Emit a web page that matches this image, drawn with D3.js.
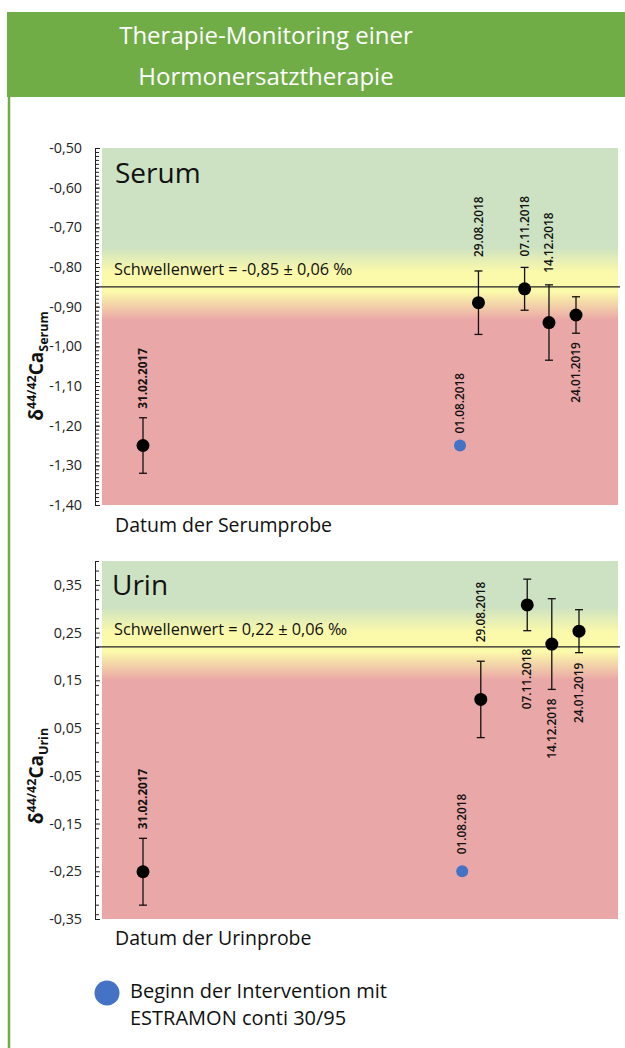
<!DOCTYPE html>
<html>
<head>
<meta charset="utf-8">
<style>
  body { margin:0; background:#fff; }
  #chart-area svg { display:block; }
  text { font-family: "Open Sans", Lato, sans-serif; fill:#111; }
  .tick text { font-family: "Open Sans", sans-serif; font-size:14.3px; fill:#222; }
  .date-label { font-family: "Open Sans", sans-serif; font-size:11.8px; fill:#111; }
</style>
</head>
<body>
<div id="chart-area"></div>

<script src="https://cdn.jsdelivr.net/npm/d3@7/dist/d3.min.js"></script>
<script>
    const width = 625;
    const height = 1048;

    // sample dates (index 1 = start of intervention, blue marker)
    const dates = ["31.02.2017", "01.08.2018", "29.08.2018", "07.11.2018", "14.12.2018", "24.01.2019"];
    // days relative to 01.08.2018
    const dayOffset = [-481, 0, 28, 98, 135, 176];

    const serumValues = [-1.25, -1.25, -0.89, -0.855, -0.94, -0.921];
    const serumErrors = [0.07, 0, 0.08, 0.054, 0.095, 0.046];
    const serumTicks = [-0.5, -0.6, -0.7, -0.8, -0.9, -1.0, -1.1, -1.2, -1.3, -1.4];
    const serumThreshold = -0.85;

    const urinValues = [-0.251, -0.25, 0.11, 0.308, 0.226, 0.253];
    const urinErrors = [0.07, 0, 0.08, 0.054, 0.095, 0.045];
    const urinTicks = [0.35, 0.25, 0.15, 0.05, -0.05, -0.15, -0.25, -0.35];
    const urinThreshold = 0.22;

    const green = "#70ad47";
    const blue = "#4472c4";

    const svg = d3.select("#chart-area")
        .append("svg")
            .attr("width", width)
            .attr("height", height);

    const defs = svg.append("defs");

    // header + left border
    svg.append("rect")
        .attr("x", 7).attr("y", 12)
        .attr("width", width - 7).attr("height", 85)
        .attr("fill", green);
    svg.append("line")
        .attr("x1", 9).attr("x2", 9)
        .attr("y1", 97).attr("y2", height)
        .attr("stroke", green).attr("stroke-width", 2.5);

    svg.append("text")
        .attr("x", 266).attr("y", 44)
        .attr("text-anchor", "middle")
        .style("font-size", "24px").style("fill", "#fff")
        .text("Therapie-Monitoring einer");
    svg.append("text")
        .attr("x", 266).attr("y", 85)
        .attr("text-anchor", "middle")
        .style("font-size", "24px").style("fill", "#fff")
        .text("Hormonersatztherapie");

    const fmt = v => d3.format(".2f")(v).replace("−", "-").replace(".", ",");

    function drawPanel(p) {
        const y = d3.scaleLinear().domain(p.domain).range(p.yRange);
        const x = d3.scaleLinear().domain([dayOffset[0], dayOffset[dayOffset.length - 1]]).range(p.xRange);
        const g = svg.append("g");

        // background gradient around the threshold
        const ty = y(p.threshold);
        const top = y(p.domain[1]), bottom = y(p.domain[0]);
        const grad = defs.append("linearGradient")
            .attr("id", "grad-" + p.id)
            .attr("gradientUnits", "userSpaceOnUse")
            .attr("x1", 0).attr("x2", 0)
            .attr("y1", top).attr("y2", bottom);
        [[-40, "#cde2c2"], [-15, "#fbf9aa"], [5, "#fbf9aa"], [33, "#eaa7a7"]].forEach(s => {
            grad.append("stop")
                .attr("offset", (ty + s[0] - top) / (bottom - top))
                .attr("stop-color", s[1]);
        });
        g.append("rect")
            .attr("x", 102).attr("y", top)
            .attr("width", 618 - 102).attr("height", bottom - top)
            .attr("fill", `url(#grad-${p.id})`);

        // y axis: minor ticks, then major ticks with labels
        const minor = d3.range(Math.round(p.domain[0] / p.minorStep), Math.round(p.domain[1] / p.minorStep) + 1)
            .map(k => k * p.minorStep);
        g.append("g")
            .attr("transform", "translate(95,0)")
            .call(d3.axisLeft(y).tickValues(minor).tickFormat("").tickSizeInner(-4).tickSizeOuter(0))
            .call(a => a.select(".domain").attr("stroke", "#222"))
            .call(a => a.selectAll(".tick line").attr("stroke", "#222"));
        g.append("g")
            .attr("transform", "translate(95,0)")
            .call(d3.axisLeft(y).tickValues(p.ticks).tickFormat(fmt).tickSizeInner(-5).tickSizeOuter(0).tickPadding(13))
            .call(a => a.select(".domain").remove())
            .call(a => a.selectAll(".tick line").attr("stroke", "#222"));

        // panel title and threshold
        g.append("text")
            .attr("x", p.titleX).attr("y", p.titleY)
            .style("font-size", "28px")
            .text(p.title);
        g.append("line")
            .attr("x1", 95).attr("x2", 620)
            .attr("y1", ty).attr("y2", ty)
            .attr("stroke", "#222").attr("stroke-width", 1.3);
        g.append("text")
            .attr("x", 114).attr("y", ty - p.thrLabelGap)
            .style("font-size", "16.3px")
            .text(p.thrLabel);

        // y axis title
        const yt = g.append("text")
            .attr("transform", `translate(43,${p.axisTitleY}) rotate(-90)`)
            .attr("text-anchor", "middle")
            .style("font-size", "19px").style("font-weight", "bold");
        yt.append("tspan").text("δ");
        yt.append("tspan").attr("dy", -7).style("font-size", "12.5px").text("44/42");
        yt.append("tspan").attr("dy", 7).text("Ca");
        yt.append("tspan").attr("dy", 5).style("font-size", "12.5px").text(p.sub);

        // x axis title
        g.append("text")
            .attr("x", 115).attr("y", p.xTitleY)
            .style("font-size", "19.5px")
            .text(p.xTitle);

        const pts = dates.map((d, i) => ({date: d, day: dayOffset[i], v: p.values[i], e: p.errors[i], i}));

        // error bars
        const eb = g.selectAll(".eb").data(pts.filter(d => d.e > 0)).enter().append("g")
            .attr("stroke", "#111").attr("stroke-width", 1.3);
        eb.append("line")
            .attr("x1", d => x(d.day)).attr("x2", d => x(d.day))
            .attr("y1", d => y(d.v + d.e)).attr("y2", d => y(d.v - d.e));
        eb.append("line")
            .attr("x1", d => x(d.day) - 4).attr("x2", d => x(d.day) + 4)
            .attr("y1", d => y(d.v + d.e)).attr("y2", d => y(d.v + d.e));
        eb.append("line")
            .attr("x1", d => x(d.day) - 4).attr("x2", d => x(d.day) + 4)
            .attr("y1", d => y(d.v - d.e)).attr("y2", d => y(d.v - d.e));

        g.selectAll(".pt").data(pts).enter().append("circle")
            .attr("cx", d => x(d.day))
            .attr("cy", d => y(d.v))
            .attr("r", d => d.i === 1 ? 6 : 6.5)
            .attr("fill", d => d.i === 1 ? blue : "#000");

        // rotated date labels
        g.selectAll(".date-label").data(pts).enter().append("text")
            .attr("class", "date-label")
            .style("font-weight", d => d.i === 0 ? "bold" : "600")
            .attr("text-anchor", d => p.labelSide[d.i] === "above" ? "start" : "end")
            .attr("dy", "0.35em")
            .attr("transform", d => {
                const ly = p.labelSide[d.i] === "above"
                    ? y(d.v + d.e) - p.labelGap[d.i]
                    : y(d.v - d.e) + p.labelGap[d.i];
                return `translate(${x(d.day)},${ly}) rotate(-90)`;
            })
            .text(d => d.date);
    }

    drawPanel({
        id: "serum", values: serumValues, errors: serumErrors, ticks: serumTicks,
        domain: [-1.4, -0.5], yRange: [505, 148], xRange: [143, 576], minorStep: 0.01,
        threshold: serumThreshold, thrLabel: "Schwellenwert = -0,85 ± 0,06 ‰", thrLabelGap: 11.5,
        title: "Serum", titleX: 115, titleY: 183,
        sub: "Serum", axisTitleY: 366,
        xTitle: "Datum der Serumprobe", xTitleY: 532,
        labelSide: ["above", "above", "above", "above", "above", "below"],
        labelGap: [9, 12, 14, 11, 12, 9]
    });

    drawPanel({
        id: "urin", values: urinValues, errors: urinErrors, ticks: urinTicks,
        domain: [-0.35, 0.40], yRange: [919, 561], xRange: [143, 579], minorStep: 0.02,
        threshold: urinThreshold, thrLabel: "Schwellenwert = 0,22 ± 0,06 ‰", thrLabelGap: 11.5,
        title: "Urin", titleX: 112, titleY: 595,
        sub: "Urin", axisTitleY: 776,
        xTitle: "Datum der Urinprobe", xTitleY: 945,
        labelSide: ["above", "above", "above", "below", "below", "below"],
        labelGap: [9, 17, 19, 18, 9, 10]
    });

    // legend
    svg.append("circle")
        .attr("cx", 107).attr("cy", 993).attr("r", 12.5)
        .attr("fill", blue);
    svg.append("text")
        .attr("x", 130).attr("y", 998)
        .style("font-size", "20px")
        .text("Beginn der Intervention mit");
    svg.append("text")
        .attr("x", 130).attr("y", 1025)
        .style("font-size", "20px")
        .text("ESTRAMON conti 30/95");
</script>
</body>
</html>
